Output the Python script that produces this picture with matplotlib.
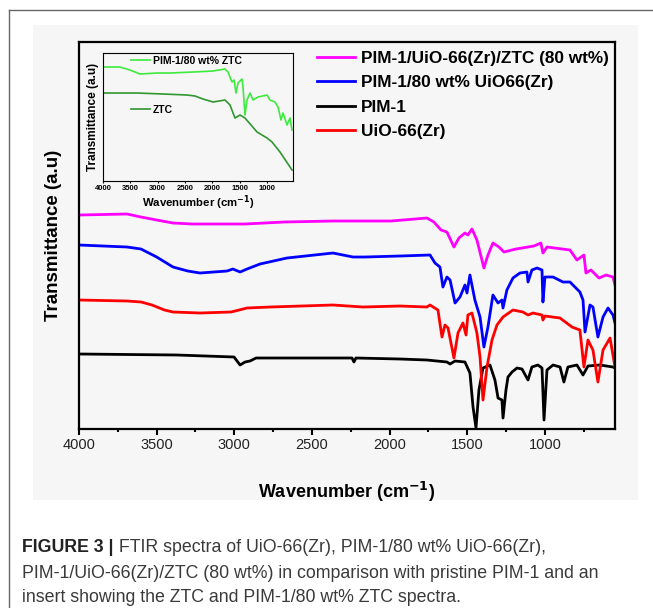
import numpy as np
import matplotlib.pyplot as plt
from matplotlib.patches import Rectangle
from matplotlib.lines import Line2D
from matplotlib.ticker import MultipleLocator

plt.rcParams['font.family'] = ['Liberation Sans', 'DejaVu Sans']

# main panel: wavenumber (cm-1) vs offset transmittance (a.u.)
wn_mix = [4000, 3691, 3601, 3500, 3395, 3270, 3138, 2931, 2680, 2365, 1991, 1760, 1715, 1669,
          1631, 1586, 1554, 1515, 1496, 1470, 1438, 1393, 1367, 1335, 1296, 1264, 1187, 1071,
          1026, 1013, 987, 839, 794, 749, 736, 704, 652, 607, 562, 549]
t_mix = [214, 215, 212, 209, 206, 205, 205, 205, 207, 208, 208, 211, 207, 199,
         197, 182, 191, 196, 194, 200, 189, 161, 174, 186, 182, 177, 180, 183,
         186, 176, 182, 179, 169, 174, 156, 159, 151, 154, 152, 144]

wn_uio_pim = [4000, 3691, 3601, 3500, 3395, 3300, 3221, 3047, 3009, 2963, 2918, 2835, 2661,
              2365, 2236, 2159, 1933, 1740, 1708, 1676, 1657, 1631, 1611, 1579, 1547, 1515,
              1502, 1483, 1451, 1418, 1393, 1367, 1335, 1302, 1277, 1270, 1245, 1206, 1161,
              1116, 1109, 1084, 1051, 1019, 1013, 1000, 948, 884, 839, 775, 755, 742, 710,
              691, 659, 626, 594, 562, 549]
t_uio_pim = [184, 182, 180, 172, 162, 158, 156, 158, 160, 157, 160, 165, 171,
             176, 172, 172, 173, 174, 166, 162, 142, 152, 149, 126, 132, 144,
             136, 154, 129, 112, 82, 102, 134, 126, 129, 121, 139, 151, 156,
             157, 147, 159, 161, 159, 127, 152, 152, 147, 147, 137, 129, 97, 124,
             122, 92, 112, 121, 114, 106]

wn_pim = [4000, 3369, 3002, 2963, 2931, 2899, 2860, 2680, 2242, 2230, 2217, 1933, 1760, 1631,
          1611, 1579, 1515, 1483, 1463, 1444, 1425, 1399, 1354, 1322, 1302, 1277, 1270, 1251,
          1238, 1212, 1180, 1148, 1109, 1084, 1045, 1019, 1006, 987, 948, 903, 878, 852,
          794, 755, 723, 646, 562, 549]
t_pim = [75, 74, 72, 64, 67, 68, 71, 71, 71, 67, 71, 70, 69, 67,
         65, 68, 67, 56, 22, 1, 39, 61, 64, 49, 31, 29, 11, 39,
         52, 57, 61, 60, 49, 62, 64, 61, 9, 59, 64, 62, 47, 62,
         64, 54, 63, 64, 62, 61]

wn_uio = [4000, 3691, 3600, 3530, 3450, 3395, 3221, 3021, 2918, 2770, 2365, 2172, 1933, 1760,
          1740, 1689, 1663, 1644, 1624, 1586, 1560, 1528, 1508, 1496, 1470, 1438, 1418, 1399,
          1373, 1341, 1309, 1270, 1206, 1142, 1109, 1077, 1019, 1013, 1000, 903, 826, 775,
          749, 723, 691, 659, 626, 581, 549]
t_uio = [129, 128, 127, 124, 119, 117, 116, 117, 121, 122, 124, 122, 123, 122,
         124, 119, 92, 104, 101, 71, 96, 106, 94, 114, 116, 96, 72, 29,
         62, 89, 104, 112, 119, 117, 114, 116, 114, 109, 113, 111, 102, 99,
         62, 89, 79, 47, 79, 91, 62]

# inset
wn_ztc_pim = [4000, 3689, 3506, 3323, 3012, 2775, 2354, 1988, 1769, 1714, 1641, 1604, 1567, 1531,
              1458, 1439, 1403, 1366, 1311, 1256, 1165, 1000, 946, 854, 799, 744, 708, 634,
              580, 543]
t_ztc_pim = [114, 114, 111, 107, 108, 108, 109, 110, 112, 109, 99, 101, 88, 98,
             102, 94, 66, 81, 88, 81, 84, 86, 81, 79, 74, 61, 68, 56,
             63, 51]
wn_ztc = [4000, 3378, 2903, 2464, 2317, 2171, 1988, 1769, 1677, 1586, 1494, 1403, 1183, 1000,
          909, 763, 543]
t_ztc = [88, 88, 87, 86, 85, 82, 79, 81, 76, 63, 66, 63, 49, 43,
         39, 29, 11]

labels = ['PIM-1/UiO-66(Zr)/ZTC (80 wt%)', 'PIM-1/80 wt% UiO66(Zr)', 'PIM-1', 'UiO-66(Zr)']
colors = ['#ff00ff', '#0000ff', '#000000', '#ff0000']

fig = plt.figure(figsize=(6.53, 6.08), dpi=100)
fig.add_artist(Rectangle((0.0505, 0.1776), 0.9265, 0.7813, transform=fig.transFigure,
                         facecolor='#f6f6f6', edgecolor='none', zorder=-10))
fig.add_artist(Line2D([0.0138, 0.0138], [0, 0.9836], color='#666666', lw=1))
fig.add_artist(Line2D([0.0138, 1], [0.9836, 0.9836], color='#666666', lw=1))

ax = fig.add_axes([0.121, 0.2944, 0.8208, 0.6365])
ax.set_facecolor('none')
series = [(wn_mix, t_mix), (wn_uio_pim, t_uio_pim), (wn_pim, t_pim), (wn_uio, t_uio)]
handles = []
for (x, y), lab, c in zip(series, labels, colors):
    (h,) = ax.plot(x, y, color=c, lw=2, label=lab, solid_joinstyle='round')
    handles.append(h)

ax.set_xlim(4000, 549)
ax.set_ylim(0, 387)
ax.set_yticks([])
ax.xaxis.set_major_locator(MultipleLocator(500))
ax.xaxis.set_minor_locator(MultipleLocator(250))
ax.tick_params(axis='x', which='major', direction='out', length=4.5, width=1.5,
               labelsize=10.5, pad=2, labelcolor='#222222')
ax.tick_params(axis='x', which='minor', direction='out', length=2.5, width=1.5)
for s in ax.spines.values():
    s.set_linewidth(1.6)
ax.set_xlabel('Wavenumber (cm$^{\\mathbf{-1}}$)', fontsize=13, fontweight='bold', labelpad=20)
ax.set_ylabel('Transmittance (a.u)', fontsize=13.5, fontweight='bold', labelpad=12)

ax.legend(handles=handles, loc='upper left', bbox_to_anchor=(0.444, 0.978), frameon=False,
          prop={'size': 12.4, 'weight': 'bold'}, handlelength=2.2, handletextpad=0.35,
          labelspacing=0.55, borderpad=0, borderaxespad=0)

# inset
ins = fig.add_axes([0.1577, 0.7023, 0.291, 0.2105])
ins.set_facecolor('none')
(g1,) = ins.plot(wn_ztc_pim, t_ztc_pim, color='#3dea3d', lw=1.2)
(g2,) = ins.plot(wn_ztc, t_ztc, color='#2f972f', lw=1.2)
ins.set_xlim(4000, 525)
ins.set_ylim(0, 128)
ins.set_yticks([])
ins.set_xticks([4000, 3500, 3000, 2500, 2000, 1500, 1000])
ins.tick_params(axis='x', direction='out', length=1.5, width=0.8, labelsize=5.5, pad=1.5)
for t in ins.get_xticklabels():
    t.set_fontweight('bold')
for s in ins.spines.values():
    s.set_linewidth(0.8)
ins.set_xlabel('Wavenumber (cm$^{\\mathbf{-1}}$)', fontsize=8.2, fontweight='bold', labelpad=1)
ins.set_ylabel('Transmittance (a.u)', fontsize=8.5, fontweight='bold', labelpad=3)
leg1 = ins.legend([g1], ['PIM-1/80 wt% ZTC'], loc='center left', bbox_to_anchor=(0.147, 0.94),
                  frameon=False, prop={'size': 7.5, 'weight': 'bold'}, handlelength=1.8,
                  handletextpad=0.3, borderpad=0, borderaxespad=0)
ins.add_artist(leg1)
ins.legend([g2], ['ZTC'], loc='center left', bbox_to_anchor=(0.147, 0.555),
           frameon=False, prop={'size': 7.5, 'weight': 'bold'}, handlelength=1.8,
           handletextpad=0.3, borderpad=0, borderaxespad=0)

# caption
fig.canvas.draw()
cap_size = 12.8
cap_y = [1 - 548 / 608, 1 - 573 / 608, 1 - 597 / 608]
bold = fig.text(0.034, cap_y[0], 'FIGURE 3 |', fontsize=cap_size, fontweight='bold',
                color='#222222', va='center')
bb = bold.get_window_extent(fig.canvas.get_renderer())
fig.text(bb.x1 / fig.bbox.width, cap_y[0],
         ' FTIR spectra of UiO-66(Zr), PIM-1/80 wt% UiO-66(Zr),',
         fontsize=cap_size, color='#3a3a3a', va='center')
fig.text(0.034, cap_y[1],
         'PIM-1/UiO-66(Zr)/ZTC (80 wt%) in comparison with pristine PIM-1 and an',
         fontsize=cap_size, color='#3a3a3a', va='center')
fig.text(0.034, cap_y[2], 'insert showing the ZTC and PIM-1/80 wt% ZTC spectra.',
         fontsize=cap_size, color='#3a3a3a', va='center')

fig.savefig('out.png', dpi=100)
